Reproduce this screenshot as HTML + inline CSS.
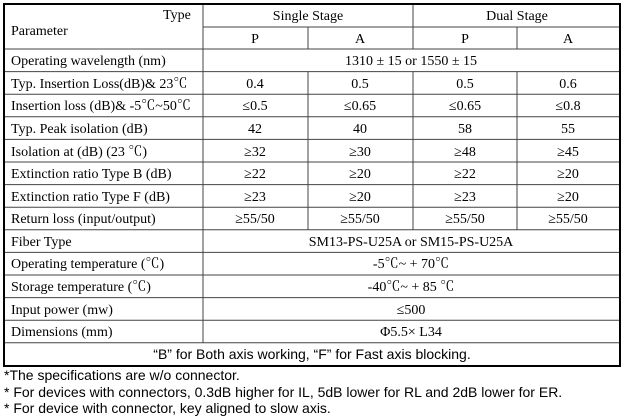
<!DOCTYPE html>
<html><head><meta charset="utf-8"><style>
html,body{margin:0;padding:0;background:#fff;width:625px;height:420px;overflow:hidden}
svg text{font-family:"Liberation Serif","Noto Serif CJK SC",serif;font-size:14px;fill:#000}
svg text.s{font-family:"Liberation Sans","Noto Sans CJK SC",sans-serif;font-size:14px}
</style></head><body>
<svg width="625" height="420" xmlns="http://www.w3.org/2000/svg">
<g stroke="#444" stroke-width="1">
<line x1="203" y1="27" x2="620" y2="27"/>
<line x1="4" y1="49" x2="620" y2="49"/>
<line x1="4" y1="71.6" x2="620" y2="71.6"/>
<line x1="4" y1="94.2" x2="620" y2="94.2"/>
<line x1="4" y1="116.8" x2="620" y2="116.8"/>
<line x1="4" y1="139.4" x2="620" y2="139.4"/>
<line x1="4" y1="162" x2="620" y2="162"/>
<line x1="4" y1="184.6" x2="620" y2="184.6"/>
<line x1="4" y1="207.2" x2="620" y2="207.2"/>
<line x1="4" y1="229.8" x2="620" y2="229.8"/>
<line x1="4" y1="252.4" x2="620" y2="252.4"/>
<line x1="4" y1="275" x2="620" y2="275"/>
<line x1="4" y1="297.6" x2="620" y2="297.6"/>
<line x1="4" y1="320.2" x2="620" y2="320.2"/>
<line x1="4" y1="342.8" x2="620" y2="342.8"/>
<line x1="203" y1="4" x2="203" y2="342.8"/>
<line x1="413" y1="4" x2="413" y2="49"/>
<line x1="308" y1="27" x2="308" y2="49"/>
<line x1="517" y1="27" x2="517" y2="49"/>
<line x1="308" y1="71.6" x2="308" y2="229.8"/>
<line x1="413" y1="71.6" x2="413" y2="229.8"/>
<line x1="517" y1="71.6" x2="517" y2="229.8"/>
</g>
<rect x="4" y="4" width="616" height="362" fill="none" stroke="#000" stroke-width="2"/>
<text x="163" y="19">Type</text>
<text x="11" y="35">Parameter</text>
<text x="308" y="20" text-anchor="middle">Single Stage</text>
<text x="517" y="20" text-anchor="middle">Dual Stage</text>
<text x="255" y="43" text-anchor="middle">P</text><text x="360" y="43" text-anchor="middle">A</text>
<text x="465" y="43" text-anchor="middle">P</text><text x="568" y="43" text-anchor="middle">A</text>
<g>
<text x="11" y="65">Operating wavelength (nm)</text><text x="411" y="65" text-anchor="middle">1310 ± 15 or 1550 ± 15</text>
<text x="11" y="88">Typ. Insertion Loss(dB)&amp; 23℃</text>
<text x="255" y="88" text-anchor="middle">0.4</text><text x="360" y="88" text-anchor="middle">0.5</text><text x="465" y="88" text-anchor="middle">0.5</text><text x="568" y="88" text-anchor="middle">0.6</text>
<text x="11" y="110">Insertion loss (dB)&amp; -5℃~50℃</text>
<text x="255" y="110" text-anchor="middle">≤0.5</text><text x="360" y="110" text-anchor="middle">≤0.65</text><text x="465" y="110" text-anchor="middle">≤0.65</text><text x="568" y="110" text-anchor="middle">≤0.8</text>
<text x="11" y="133">Typ. Peak isolation (dB)</text>
<text x="255" y="133" text-anchor="middle">42</text><text x="360" y="133" text-anchor="middle">40</text><text x="465" y="133" text-anchor="middle">58</text><text x="568" y="133" text-anchor="middle">55</text>
<text x="11" y="156">Isolation at (dB) (23 ℃)</text>
<text x="255" y="156" text-anchor="middle">≥32</text><text x="360" y="156" text-anchor="middle">≥30</text><text x="465" y="156" text-anchor="middle">≥48</text><text x="568" y="156" text-anchor="middle">≥45</text>
<text x="11" y="178">Extinction ratio Type B (dB)</text>
<text x="255" y="178" text-anchor="middle">≥22</text><text x="360" y="178" text-anchor="middle">≥20</text><text x="465" y="178" text-anchor="middle">≥22</text><text x="568" y="178" text-anchor="middle">≥20</text>
<text x="11" y="201">Extinction ratio Type F (dB)</text>
<text x="255" y="201" text-anchor="middle">≥23</text><text x="360" y="201" text-anchor="middle">≥20</text><text x="465" y="201" text-anchor="middle">≥23</text><text x="568" y="201" text-anchor="middle">≥20</text>
<text x="11" y="223">Return loss (input/output)</text>
<text x="255" y="223" text-anchor="middle">≥55/50</text><text x="360" y="223" text-anchor="middle">≥55/50</text><text x="465" y="223" text-anchor="middle">≥55/50</text><text x="568" y="223" text-anchor="middle">≥55/50</text>
<text x="11" y="246">Fiber Type</text><text x="411" y="246" text-anchor="middle">SM13-PS-U25A or SM15-PS-U25A</text>
<text x="11" y="268">Operating temperature (℃)</text><text x="411" y="268" text-anchor="middle">-5℃~ + 70℃</text>
<text x="11" y="291">Storage temperature (℃)</text><text x="411" y="291" text-anchor="middle">-40℃~ + 85 ℃</text>
<text x="11" y="314">Input power (mw)</text><text x="411" y="314" text-anchor="middle">≤500</text>
<text x="11" y="336">Dimensions (mm)</text><text x="411" y="336" text-anchor="middle">Φ5.5× L34</text>
<text class="s" x="312" y="359" text-anchor="middle">“B” for Both axis working, “F” for Fast axis blocking.</text>
</g>
<text class="s" x="4" y="380">*The specifications are w/o connector.</text>
<text class="s" x="4" y="397">* For devices with connectors, 0.3dB higher for IL, 5dB lower for RL and 2dB lower for ER.</text>
<text class="s" x="4" y="413">* For device with connector, key aligned to slow axis.</text>
</svg>
</body></html>
